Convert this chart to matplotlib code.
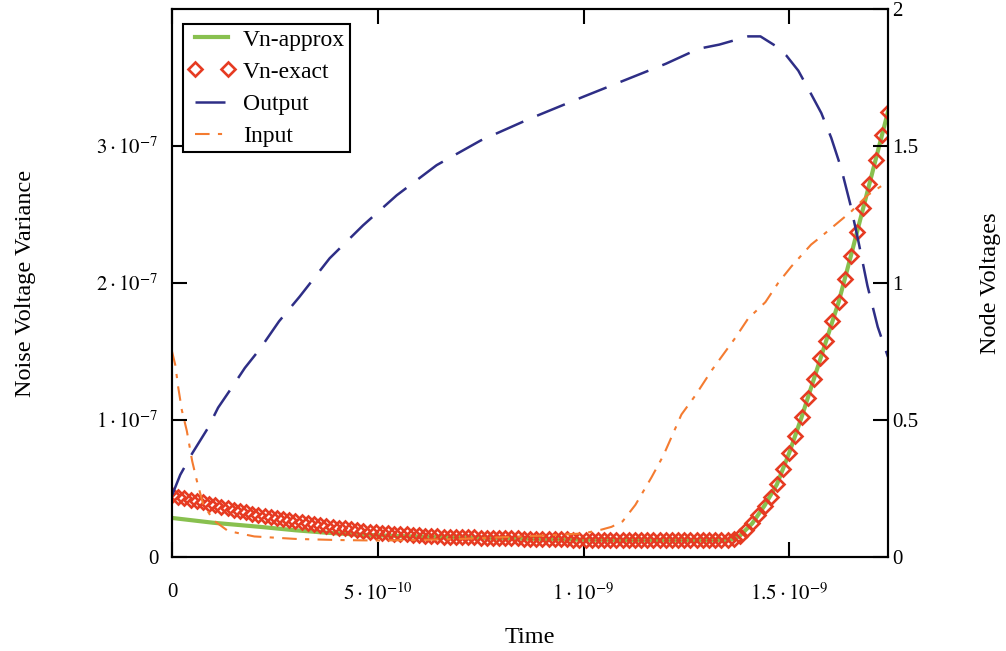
"""
Noise voltage variance (left axis) and node voltages (right axis) vs. time.
"""

import matplotlib.pyplot as plt
import numpy as np

plt.rcParams["font.family"] = ["Liberation Serif", "DejaVu Serif"]
plt.rcParams["mathtext.fontset"] = "stix"

# ---------------------------------------------------
# Data (time in ns, variance in 1e-7 V^2, voltages in V)
# ---------------------------------------------------
T_STEP_NS = 0.015

vn_exact = [
    0.450, 0.440, 0.430, 0.419, 0.409, 0.399, 0.389, 0.378, 0.367, 0.357,
    0.346, 0.336, 0.326, 0.316, 0.307, 0.300, 0.293, 0.285, 0.278, 0.271,
    0.264, 0.257, 0.250, 0.243, 0.236, 0.229, 0.222, 0.215, 0.208, 0.201,
    0.194, 0.188, 0.184, 0.180, 0.177, 0.174, 0.171, 0.168, 0.165, 0.162,
    0.158, 0.155, 0.153, 0.151, 0.149, 0.147, 0.146, 0.145, 0.144, 0.143,
    0.142, 0.141, 0.140, 0.139, 0.138, 0.137, 0.136, 0.135, 0.134, 0.133,
    0.132, 0.131, 0.130, 0.129, 0.128, 0.127, 0.126, 0.125, 0.125, 0.124,
    0.124, 0.123, 0.123, 0.123, 0.123, 0.123, 0.123, 0.123, 0.123, 0.123,
    0.123, 0.123, 0.123, 0.123, 0.123, 0.123, 0.123, 0.123, 0.123, 0.123,
    0.124, 0.130, 0.155, 0.195, 0.245, 0.310, 0.375, 0.435, 0.530, 0.640,
    0.760, 0.880, 1.020, 1.160, 1.300, 1.450, 1.580, 1.720, 1.860, 2.030,
    2.200, 2.370, 2.550, 2.720, 2.900, 3.080, 3.250,
]

t_approx = [
    0.0, 0.1, 0.214, 0.3, 0.376, 0.456, 0.55, 0.7, 0.85, 1.0, 1.2, 1.35,
    1.365, 1.38, 1.41, 1.44, 1.47, 1.50, 1.53, 1.56, 1.59, 1.62, 1.65,
    1.68, 1.71, 1.74,
]
vn_approx = [
    0.285, 0.250, 0.220, 0.195, 0.177, 0.163, 0.153, 0.143, 0.134, 0.126,
    0.123, 0.124, 0.130, 0.155, 0.245, 0.375, 0.530, 0.760, 1.020, 1.300,
    1.580, 1.860, 2.200, 2.550, 2.900, 3.250,
]

t_output = [
    0.0, 0.02, 0.049, 0.087, 0.112, 0.146, 0.177, 0.214, 0.26, 0.31, 0.383,
    0.464, 0.546, 0.643, 0.75, 0.87, 1.0, 1.1, 1.2, 1.28, 1.33, 1.40, 1.43,
    1.466, 1.493, 1.522, 1.553, 1.578, 1.602, 1.626, 1.648, 1.667, 1.69,
    1.715, 1.74,
]
v_output = [
    0.225, 0.30, 0.378, 0.47, 0.545, 0.62, 0.69, 0.76, 0.86, 0.95, 1.09,
    1.21, 1.32, 1.43, 1.52, 1.60, 1.68, 1.74, 1.80, 1.855, 1.87, 1.90, 1.90,
    1.866, 1.83, 1.775, 1.69, 1.62, 1.53, 1.42, 1.29, 1.16, 0.99, 0.84, 0.73,
]

t_input = [
    0.0, 0.008, 0.015, 0.024, 0.036, 0.049, 0.06, 0.075, 0.10, 0.136, 0.2,
    0.3, 0.4, 0.5, 0.6, 0.7, 0.8, 0.9, 1.0, 1.044, 1.068, 1.095, 1.126,
    1.165, 1.194, 1.238, 1.272, 1.311, 1.369, 1.40, 1.442, 1.473, 1.505,
    1.553, 1.578, 1.602, 1.65, 1.69, 1.74,
]
v_input = [
    0.75, 0.70, 0.62, 0.535, 0.46, 0.35, 0.28, 0.196, 0.135, 0.095, 0.075,
    0.066, 0.062, 0.060, 0.062, 0.066, 0.072, 0.078, 0.086, 0.10, 0.11,
    0.13, 0.19, 0.29, 0.37, 0.52, 0.59, 0.68, 0.80, 0.87, 0.93, 1.0, 1.06,
    1.14, 1.17, 1.20, 1.26, 1.32, 1.37,
]

x_ticks = [0.0, 5e-10, 1e-9, 1.5e-9]
x_tick_labels = ["0", r"$5\cdot10^{-10}$", r"$1\cdot10^{-9}$", r"$1.5\cdot10^{-9}$"]
left_ticks = [0.0, 1e-7, 2e-7, 3e-7]
left_tick_labels = ["0", r"$1\cdot10^{-7}$", r"$2\cdot10^{-7}$", r"$3\cdot10^{-7}$"]
right_ticks = [0.0, 0.5, 1.0, 1.5, 2.0]
right_tick_labels = ["0", "0.5", "1", "1.5", "2"]

# units -> SI
t_exact = T_STEP_NS * np.arange(len(vn_exact)) * 1e-9
vn_exact_si = np.array(vn_exact) * 1e-7
t_approx_si = np.array(t_approx) * 1e-9
vn_approx_si = np.array(vn_approx) * 1e-7
t_output_si = np.array(t_output) * 1e-9
t_input_si = np.array(t_input) * 1e-9

# ---------------------------------------------------
# Figure
# ---------------------------------------------------
fig = plt.figure(figsize=(10.06, 6.51), dpi=100)
ax = fig.add_axes([0.171, 0.1444, 0.7117, 0.8418])
ax2 = ax.twinx()

green = "#88c04f"
red = "#e63b22"
navy = "#2e2e86"
orange = "#f47b30"

l_approx, = ax.plot(t_approx_si, vn_approx_si, color=green, linewidth=3.0,
                    label="Vn-approx", zorder=2)
l_exact, = ax.plot(t_exact, vn_exact_si, linestyle="none", marker="D",
                   markersize=6.8, markerfacecolor="none",
                   markeredgecolor=red, markeredgewidth=1.9,
                   label="Vn-exact", zorder=3)

l_out, = ax2.plot(t_output_si, v_output, color=navy, linewidth=1.8,
                  dashes=(12, 6), label="Output")
l_in, = ax2.plot(t_input_si, v_input, color=orange, linewidth=1.5,
                 dashes=(7, 4, 2, 4), label="Input")

# ---------------------------------------------------
# Axes
# ---------------------------------------------------
ax.set_xlim(0, 1.74e-9)
ax.set_ylim(0, 4e-7)
ax2.set_ylim(0, 2)

ax.set_xticks(x_ticks)
ax.set_xticklabels(x_tick_labels)
ax.set_yticks(left_ticks)
ax.set_yticklabels(left_tick_labels)
ax2.set_yticks(right_ticks)
ax2.set_yticklabels(right_tick_labels)

ax.tick_params(axis="x", direction="in", length=11, width=1.5, top=True,
               labelsize=15, pad=19)
ax.tick_params(axis="y", direction="in", length=11, width=1.5,
               labelsize=15, pad=10)
ax2.tick_params(axis="y", direction="in", length=11, width=1.5,
                labelsize=15, pad=3)

for a in (ax, ax2):
    for sp in a.spines.values():
        sp.set_linewidth(1.5)

ax.set_xlabel("Time", fontsize=17.5, labelpad=16)
ax.set_ylabel("Noise Voltage Variance", fontsize=17.5)
ax.yaxis.set_label_coords(-0.19, 0.5)
ax2.set_ylabel("Node Voltages", fontsize=17.5, rotation=90)
ax2.yaxis.set_label_coords(1.128, 0.5)

leg = ax2.legend(handles=[l_approx, l_exact, l_out, l_in],
                 loc="upper left", bbox_to_anchor=(0.015, 0.972),
                 borderaxespad=0, fontsize=17, numpoints=2,
                 handlelength=2.0, labelspacing=0.45, fancybox=False,
                 framealpha=1, edgecolor="black", borderpad=0.2,
                 handletextpad=0.35)
leg.get_frame().set_linewidth(1.5)

fig.savefig("out.png", dpi=100)
